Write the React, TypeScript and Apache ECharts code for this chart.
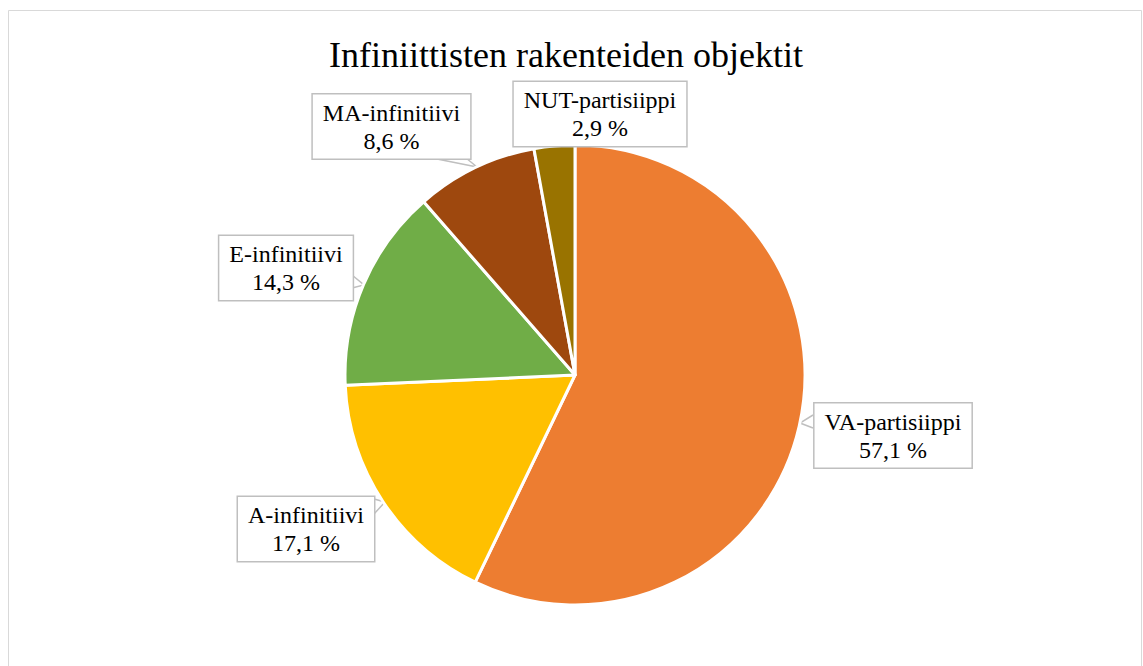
import React, { useEffect, useRef } from "react";
import * as echarts from "echarts";

const categories = ["VA-partisiippi", "A-infinitiivi", "E-infinitiivi", "MA-infinitiivi", "NUT-partisiippi"];
const counts = [20, 6, 5, 3, 1];
const colors = ["#ED7D31", "#FFC000", "#70AD47", "#9E480E", "#997300"];
const titleText = "Infiniittisten rakenteiden objektit";

// label layout: box centers and callout pointer (base A, tip, base B)
const labelCenters: [number, number][] = [
  [893, 435.5],
  [306, 529],
  [286, 268],
  [391.5, 126.5],
  [600, 114],
];
const pointers: ([number, number][] | null)[] = [
  [[813, 415], [800, 423], [813, 428]],
  [[374, 499], [385, 502], [374, 514]],
  [[352, 275], [364, 285], [352, 288]],
  [[432, 158], [477, 167], [466, 158]],
  null,
];

const FONT = "Liberation Serif";

export default function App() {
  const ref = useRef<HTMLDivElement>(null);
  useEffect(() => {
    if (!ref.current) return;
    const chart = echarts.init(ref.current, undefined, { renderer: "svg" });
    const total = counts.reduce((a, b) => a + b, 0);
    chart.setOption({
      animation: false,
      backgroundColor: "#ffffff",
      graphic: [
        {
          type: "rect",
          shape: { x: 8.5, y: 10.5, width: 1133, height: 670 },
          style: { fill: "none", stroke: "#d9d9d9", lineWidth: 1 },
          silent: true,
        },
        {
          type: "text",
          x: 566,
          y: 55,
          style: {
            text: titleText,
            font: `36px ${FONT}`,
            fill: "#000000",
            textAlign: "center",
            textVerticalAlign: "middle",
          },
        },
      ],
      series: [
        {
          type: "pie",
          center: [575, 375],
          radius: [0, 230],
          startAngle: 90,
          clockwise: true,
          avoidLabelOverlap: false,
          itemStyle: { borderColor: "#ffffff", borderWidth: 3 },
          label: {
            show: true,
            position: "outside",
            formatter: (p: any) =>
              `${p.name}\n${((p.value / total) * 100).toFixed(1).replace(".", ",")} %`,
            fontFamily: FONT,
            fontSize: 24,
            lineHeight: 28,
            color: "#000000",
            align: "center",
            backgroundColor: "#ffffff",
            borderColor: "#bfbfbf",
            borderWidth: 1.5,
            padding: [4, 10, 4, 10],
          },
          labelLine: {
            show: true,
            smooth: false,
            lineStyle: { color: "#bfbfbf", width: 1.5 },
          },
          labelLayout: (params: any) => {
            const i = params.dataIndex;
            const c = labelCenters[i];
            const res: any = {
              x: c[0],
              y: c[1],
              align: "center",
              verticalAlign: "middle",
            };
            const pts = pointers[i];
            if (pts) res.labelLinePoints = pts;
            else res.labelLinePoints = [[c[0], c[1]], [c[0], c[1]], [c[0], c[1]]];
            return res;
          },
          data: categories.map((name, i) => ({
            name,
            value: counts[i],
            itemStyle: { color: colors[i] },
          })),
        },
      ],
    });
    return () => chart.dispose();
  }, []);
  return (
    <div
      ref={ref}
      style={{ position: "absolute", left: 0, top: 0, width: 1143, height: 666 }}
    />
  );
}
